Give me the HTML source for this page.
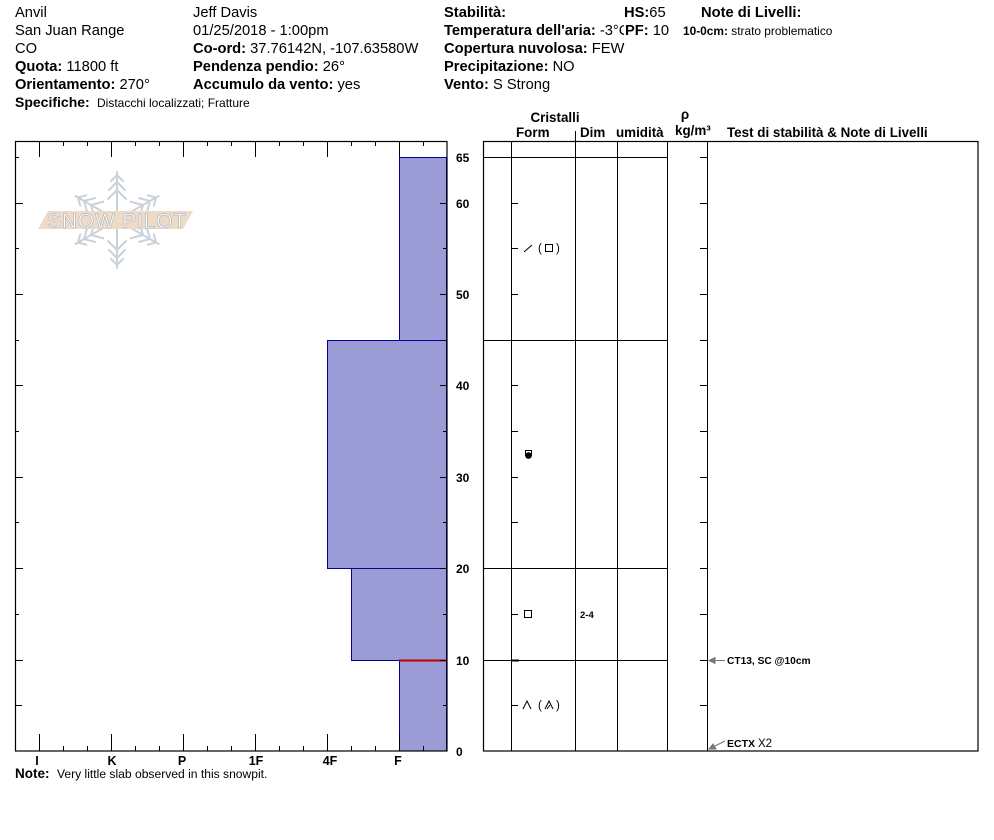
<!DOCTYPE html>
<html><head><meta charset="utf-8"><style>
html,body{margin:0;padding:0;background:#fff;}
svg{display:block;font-family:"Liberation Sans",Arial,sans-serif;}
.b{font-weight:bold;}
</style></head><body>
<svg width="994" height="840" viewBox="0 0 994 840" xmlns="http://www.w3.org/2000/svg">
<rect width="994" height="840" fill="#fff"/>
<!-- Header left -->
<g font-size="14.7" fill="#000">
<text x="15" y="17">Anvil</text>
<text x="15" y="35">San Juan Range</text>
<text x="15" y="53">CO</text>
<text x="15" y="71"><tspan class="b">Quota:</tspan> 11800 ft</text>
<text x="15" y="89"><tspan class="b">Orientamento:</tspan> 270°</text>
<text x="15" y="107"><tspan class="b" font-size="14">Specifiche:</tspan></text>
<text x="97" y="107" font-size="12">Distacchi localizzati;  Fratture</text>
<text x="193" y="17">Jeff Davis</text>
<text x="193" y="35">01/25/2018 - 1:00pm</text>
<text x="193" y="53"><tspan class="b">Co-ord:</tspan> 37.76142N, -107.63580W</text>
<text x="193" y="71"><tspan class="b">Pendenza pendio:</tspan> 26°</text>
<text x="193" y="89"><tspan class="b">Accumulo da vento:</tspan> yes</text>
<text x="444" y="17" class="b">Stabilità:</text>
<text x="624" y="17"><tspan class="b">HS:</tspan>65</text>
<text x="701" y="17" class="b">Note di Livelli:</text>
<text x="444" y="35"><tspan class="b">Temperatura dell'aria:</tspan> -3°C</text>
<rect x="624" y="22" width="28" height="16" fill="#fff"/>
<text x="625" y="35"><tspan class="b">PF:</tspan> 10</text>
<text x="683" y="35" font-size="11.9"><tspan class="b">10-0cm:</tspan> strato problematico</text>
<text x="444" y="53"><tspan class="b">Copertura nuvolosa:</tspan> FEW</text>
<text x="444" y="71"><tspan class="b">Precipitazione:</tspan> NO</text>
<text x="444" y="89"><tspan class="b">Vento:</tspan>  S Strong</text>
</g>
<!-- Table header -->
<g font-size="13.4" font-weight="bold">
<text x="555" y="122" text-anchor="middle">Cristalli</text>
<text x="516" y="137">Form</text>
<text x="580" y="137">Dim</text>
<text x="616" y="137">umidità</text>
<text x="685" y="119" text-anchor="middle">ρ</text>
<text x="675" y="135">kg/m³</text>
<text x="727" y="137">Test di stabilità &amp; Note di Livelli</text>
</g>
<line x1="575.5" y1="131" x2="575.5" y2="141" stroke="#000"/>

<!-- Logo -->
<g stroke="#c9d1d9" stroke-width="2" fill="none" stroke-linecap="round">
<g id="arm">
<line x1="117" y1="216" x2="117" y2="172"/>
<polyline points="111,181 117,175 123,181"/>
<polyline points="109,190 117,182 125,190"/>
<polyline points="108,199 117,190 126,199"/>
</g>
<use href="#arm" transform="rotate(60 117 220)"/>
<use href="#arm" transform="rotate(120 117 220)"/>
<use href="#arm" transform="rotate(180 117 220)"/>
<use href="#arm" transform="rotate(240 117 220)"/>
<use href="#arm" transform="rotate(300 117 220)"/>
</g>
<polygon points="38,229 48,211 193,211 183,229" fill="#efdac6"/>
<text x="117" y="228" text-anchor="middle" font-size="21" fill="#fff" stroke="#b0b8c0" stroke-width="0.7" letter-spacing="0.8">SNOW PILOT</text>

<!-- Left chart layers -->
<g fill="#9b9bd6" stroke="#0000a0" stroke-width="1">
<rect x="399.5" y="660.5" width="47" height="90.5"/>
<rect x="351.5" y="568.5" width="95" height="92"/>
<rect x="327.5" y="340.5" width="119" height="228"/>
<rect x="399.5" y="157.5" width="47" height="183"/>
</g>
<line x1="399" y1="660.5" x2="447" y2="660.5" stroke="#c00000" stroke-width="2"/>
<!-- Left chart frame -->
<rect x="15.5" y="141.5" width="431.5" height="609.5" fill="none" stroke="#000" stroke-width="1.2"/>
<g stroke="#000" stroke-width="1">
<line x1="39.5" y1="141" x2="39.5" y2="157"/><line x1="63.5" y1="141" x2="63.5" y2="146"/><line x1="87.5" y1="141" x2="87.5" y2="146"/>
<line x1="111.5" y1="141" x2="111.5" y2="157"/><line x1="135.5" y1="141" x2="135.5" y2="146"/><line x1="159.5" y1="141" x2="159.5" y2="146"/>
<line x1="183.5" y1="141" x2="183.5" y2="157"/><line x1="207.5" y1="141" x2="207.5" y2="146"/><line x1="231.5" y1="141" x2="231.5" y2="146"/>
<line x1="255.5" y1="141" x2="255.5" y2="157"/><line x1="279.5" y1="141" x2="279.5" y2="146"/><line x1="303.5" y1="141" x2="303.5" y2="146"/>
<line x1="327.5" y1="141" x2="327.5" y2="157"/><line x1="351.5" y1="141" x2="351.5" y2="146"/><line x1="375.5" y1="141" x2="375.5" y2="146"/>
<line x1="399.5" y1="141" x2="399.5" y2="157"/><line x1="423.5" y1="141" x2="423.5" y2="146"/>
<line x1="39.5" y1="734" x2="39.5" y2="751"/><line x1="63.5" y1="746" x2="63.5" y2="751"/><line x1="87.5" y1="746" x2="87.5" y2="751"/>
<line x1="111.5" y1="734" x2="111.5" y2="751"/><line x1="135.5" y1="746" x2="135.5" y2="751"/><line x1="159.5" y1="746" x2="159.5" y2="751"/>
<line x1="183.5" y1="734" x2="183.5" y2="751"/><line x1="207.5" y1="746" x2="207.5" y2="751"/><line x1="231.5" y1="746" x2="231.5" y2="751"/>
<line x1="255.5" y1="734" x2="255.5" y2="751"/><line x1="279.5" y1="746" x2="279.5" y2="751"/><line x1="303.5" y1="746" x2="303.5" y2="751"/>
<line x1="327.5" y1="734" x2="327.5" y2="751"/><line x1="351.5" y1="746" x2="351.5" y2="751"/><line x1="375.5" y1="746" x2="375.5" y2="751"/>
<line x1="399.5" y1="734" x2="399.5" y2="751"/><line x1="423.5" y1="746" x2="423.5" y2="751"/>
<line x1="15" y1="157.5" x2="19" y2="157.5"/><line x1="15" y1="203.5" x2="23" y2="203.5"/><line x1="15" y1="248.5" x2="19" y2="248.5"/>
<line x1="15" y1="294.5" x2="23" y2="294.5"/><line x1="15" y1="340.5" x2="19" y2="340.5"/><line x1="15" y1="385.5" x2="23" y2="385.5"/>
<line x1="15" y1="431.5" x2="19" y2="431.5"/><line x1="15" y1="477.5" x2="23" y2="477.5"/><line x1="15" y1="522.5" x2="19" y2="522.5"/>
<line x1="15" y1="568.5" x2="23" y2="568.5"/><line x1="15" y1="614.5" x2="19" y2="614.5"/><line x1="15" y1="660.5" x2="23" y2="660.5"/>
<line x1="15" y1="705.5" x2="22" y2="705.5"/>
<line x1="440" y1="203.5" x2="447" y2="203.5"/><line x1="443" y1="248.5" x2="447" y2="248.5"/><line x1="440" y1="294.5" x2="447" y2="294.5"/>
<line x1="443" y1="340.5" x2="447" y2="340.5"/><line x1="440" y1="385.5" x2="447" y2="385.5"/><line x1="443" y1="431.5" x2="447" y2="431.5"/>
<line x1="440" y1="477.5" x2="447" y2="477.5"/><line x1="443" y1="522.5" x2="447" y2="522.5"/><line x1="440" y1="568.5" x2="447" y2="568.5"/>
<line x1="443" y1="614.5" x2="447" y2="614.5"/><line x1="440" y1="660.5" x2="447" y2="660.5"/><line x1="443" y1="705.5" x2="447" y2="705.5"/>
</g>
<g font-size="12" font-weight="bold">
<text x="456" y="162">65</text>
<text x="456" y="208">60</text>
<text x="456" y="299">50</text>
<text x="456" y="390">40</text>
<text x="456" y="482">30</text>
<text x="456" y="573">20</text>
<text x="456" y="665">10</text>
<text x="456" y="756">0</text>
</g>
<g font-size="12.5" font-weight="bold" text-anchor="middle">
<text x="37" y="765">I</text>
<text x="112" y="765">K</text>
<text x="182" y="765">P</text>
<text x="256" y="765">1F</text>
<text x="330" y="765">4F</text>
<text x="398" y="765">F</text>
</g>
<text x="15" y="778" font-size="13.5" font-weight="bold">Note:</text>
<text x="57" y="778" font-size="12.1">Very little slab observed in this snowpit.</text>

<!-- Right table -->
<rect x="483.5" y="141.5" width="494.5" height="609.5" fill="none" stroke="#000" stroke-width="1.2"/>
<g stroke="#000" stroke-width="1">
<line x1="511.5" y1="141" x2="511.5" y2="751"/>
<line x1="575.5" y1="141" x2="575.5" y2="751"/>
<line x1="617.5" y1="141" x2="617.5" y2="751"/>
<line x1="667.5" y1="141" x2="667.5" y2="751"/>
<line x1="707.5" y1="141" x2="707.5" y2="751"/>
<line x1="483" y1="157.5" x2="667" y2="157.5"/>
<line x1="483" y1="340.5" x2="667" y2="340.5"/>
<line x1="483" y1="568.5" x2="667" y2="568.5"/>
<line x1="483" y1="660.5" x2="667" y2="660.5"/>
<line x1="511" y1="203.5" x2="518" y2="203.5"/><line x1="511" y1="248.5" x2="518" y2="248.5"/><line x1="511" y1="294.5" x2="518" y2="294.5"/>
<line x1="511" y1="340.5" x2="516" y2="340.5"/><line x1="511" y1="385.5" x2="518" y2="385.5"/><line x1="511" y1="431.5" x2="518" y2="431.5"/>
<line x1="511" y1="477.5" x2="518" y2="477.5"/><line x1="511" y1="522.5" x2="518" y2="522.5"/><line x1="511" y1="614.5" x2="518" y2="614.5"/>
<line x1="511" y1="660.5" x2="519" y2="660.5" stroke-width="2"/><line x1="511" y1="705.5" x2="518" y2="705.5"/>
<line x1="700" y1="157.5" x2="707" y2="157.5"/><line x1="700" y1="203.5" x2="707" y2="203.5"/><line x1="700" y1="248.5" x2="707" y2="248.5"/>
<line x1="700" y1="294.5" x2="707" y2="294.5"/><line x1="700" y1="340.5" x2="707" y2="340.5"/><line x1="700" y1="385.5" x2="707" y2="385.5"/>
<line x1="700" y1="431.5" x2="707" y2="431.5"/><line x1="700" y1="477.5" x2="707" y2="477.5"/><line x1="700" y1="522.5" x2="707" y2="522.5"/>
<line x1="700" y1="568.5" x2="707" y2="568.5"/><line x1="700" y1="614.5" x2="707" y2="614.5"/><line x1="700" y1="660.5" x2="707" y2="660.5"/>
<line x1="700" y1="705.5" x2="707" y2="705.5"/>
</g>
<!-- crystal symbols -->
<g stroke="#000" stroke-width="1" fill="none">
<line x1="524" y1="252" x2="532" y2="245"/>
<rect x="545.5" y="244.5" width="7" height="7"/>
<rect x="525.5" y="450.5" width="6" height="5"/>
<rect x="524.5" y="610.5" width="7" height="7"/>
<polyline points="523,709 527,701 531,709"/>
<polyline points="545,709 549,701 553,709"/>
<line x1="547" y1="709" x2="550" y2="705"/>
</g>
<circle cx="528.5" cy="455.5" r="3.3" fill="#000"/>
<g font-size="11.5" fill="#000">
<text x="538" y="252">(</text><text x="556" y="252">)</text>
<text x="538" y="709">(</text><text x="556" y="709">)</text>
</g>
<text x="580" y="618" font-size="9.5" font-weight="bold">2-4</text>
<!-- stability tests -->
<g stroke="#777" stroke-width="1" fill="#777">
<line x1="712" y1="660.5" x2="725" y2="660.5"/>
<polygon points="709,660.5 715,657.5 715,663.5"/>
<line x1="713" y1="747" x2="725" y2="741"/>
<polygon points="709,749 713,744 716,749"/>
</g>
<text x="727" y="664" font-size="10.2" font-weight="bold">CT13, SC @10cm</text>
<text x="727" y="747" font-size="10.5"><tspan font-weight="bold">ECTX</tspan>  <tspan font-size="11.5">X2</tspan></text>
</svg>
</body></html>
